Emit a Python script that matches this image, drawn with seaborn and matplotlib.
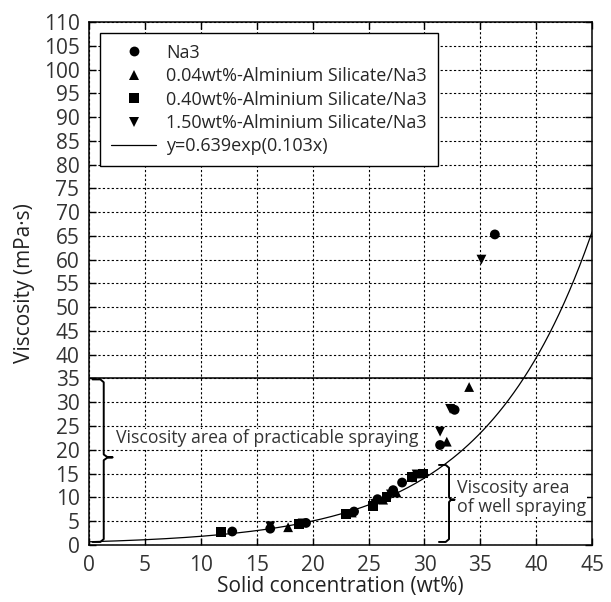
import numpy as np
import pandas as pd
import matplotlib
matplotlib.use('Agg')
import matplotlib.pyplot as plt
import seaborn as sns

# dados
na3_x = [12.8, 16.2, 19.4, 23.7, 25.8, 27.2, 28.0, 28.9, 31.4, 32.7, 36.3]
na3_y = [2.8, 3.4, 4.6, 7.0, 9.6, 11.5, 13.1, 14.2, 21.0, 28.4, 65.3]

s004_x = [17.8, 23.5, 26.3, 27.5, 29.6, 32.0, 34.0]
s004_y = [3.7, 6.8, 9.5, 11.0, 15.0, 21.7, 33.2]

s040_x = [11.8, 18.8, 23.0, 25.4, 26.6, 28.9, 29.9]
s040_y = [2.7, 4.3, 6.5, 8.1, 10.0, 14.3, 15.0]

s150_x = [16.2, 19.1, 25.6, 27.0, 29.3, 31.4, 32.3, 35.1]
s150_y = [3.9, 4.5, 8.6, 10.6, 14.8, 23.8, 28.6, 60.0]

series_names = ['Na3',
                '0.04wt%-Alminium Silicate/Na3',
                '0.40wt%-Alminium Silicate/Na3',
                '1.50wt%-Alminium Silicate/Na3']
fit_label = 'y=0.639exp(0.103x)'
fit_a, fit_b = 0.639, 0.103

x_ticks = list(range(0, 50, 5))
y_ticks = list(range(0, 115, 5))

df = pd.concat([
    pd.DataFrame({'x': na3_x, 'y': na3_y, 'serie': series_names[0]}),
    pd.DataFrame({'x': s004_x, 'y': s004_y, 'serie': series_names[1]}),
    pd.DataFrame({'x': s040_x, 'y': s040_y, 'serie': series_names[2]}),
    pd.DataFrame({'x': s150_x, 'y': s150_y, 'serie': series_names[3]}),
], ignore_index=True)

fit_x = np.linspace(0, 45, 200)
df_fit = pd.DataFrame({'x': fit_x, 'y': fit_a * np.exp(fit_b * fit_x)})

sns.set_style('ticks')
plt.rcParams['font.family'] = ['Open Sans', 'DejaVu Sans']

fig = plt.figure(figsize=(6.11, 6.02), dpi=100)
ax = fig.add_axes([0.146, 0.095, 0.823, 0.8685])

sns.scatterplot(
    data=df, x='x', y='y', style='serie', hue='serie',
    palette=['black'] * 4,
    markers={series_names[0]: 'o', series_names[1]: '^',
             series_names[2]: 's', series_names[3]: 'v'},
    s=50, edgecolor='black', linewidth=0, ax=ax, zorder=3
)
sns.lineplot(data=df_fit, x='x', y='y', color='black', linewidth=0.9,
             ax=ax, label=fit_label, zorder=2)

ax.set_xlim(0, 45)
ax.set_ylim(0, 110)
ax.set_xticks(x_ticks)
ax.set_yticks(y_ticks)
ax.grid(True, linestyle=(0, (2, 2)), color='black', linewidth=0.8)
ax.tick_params(direction='in', top=True, right=True, length=5, width=1,
               labelsize=15, color='black', labelcolor='#333333')
ax.tick_params(axis='y', pad=7)
ax.tick_params(axis='x', pad=7)
for sp in ax.spines.values():
    sp.set_linewidth(1.1)
    sp.set_color('black')

ax.axhline(35, color='black', linewidth=1.1, zorder=2)

# chaves
lb = [(0.3, 34.8), (1.0, 34.8), (1.3, 34.2), (1.3, 19.0), (1.6, 18.5),
      (2.1, 18.4), (1.6, 18.3), (1.3, 17.8), (1.3, 1.2), (1.0, 0.6), (0.3, 0.6)]
ax.plot([p[0] for p in lb], [p[1] for p in lb], color='black', linewidth=1.4,
        solid_joinstyle='round', zorder=4)
rb = [(31.3, 16.8), (31.9, 16.8), (32.2, 16.2), (32.2, 10.0), (32.35, 9.6),
      (32.7, 9.5), (32.35, 9.4), (32.2, 9.0), (32.2, 1.2), (31.9, 0.6), (31.3, 0.6)]
ax.plot([p[0] for p in rb], [p[1] for p in rb], color='black', linewidth=1.4,
        solid_joinstyle='round', zorder=4)

ax.text(2.4, 22.4, 'Viscosity area of practicable spraying', fontsize=12.7,
        color='#333333', va='center', ha='left', zorder=3,
        bbox=dict(facecolor='white', edgecolor='none', pad=0.5))
ax.text(32.9, 10.0, 'Viscosity area\nof well spraying', fontsize=12.8,
        color='#333333', va='center', ha='left', linespacing=1.1, zorder=3,
        bbox=dict(facecolor='white', edgecolor='none', pad=0.5))

ax.set_xlabel('Solid concentration (wt%)', fontsize=15, color='#222222',
              labelpad=0)
ax.set_ylabel('Viscosity (mPa·s)', fontsize=15, color='#222222', labelpad=6)

leg = ax.legend(loc='upper left', bbox_to_anchor=(0.022, 0.979),
                borderaxespad=0, fontsize=13, frameon=True, fancybox=False,
                edgecolor='black', framealpha=1, handlelength=2.5,
                handletextpad=0.55, labelspacing=0.3, borderpad=0.6)
leg.get_frame().set_linewidth(1.0)
leg.set_zorder(5)

fig.savefig('out.png', dpi=100)
